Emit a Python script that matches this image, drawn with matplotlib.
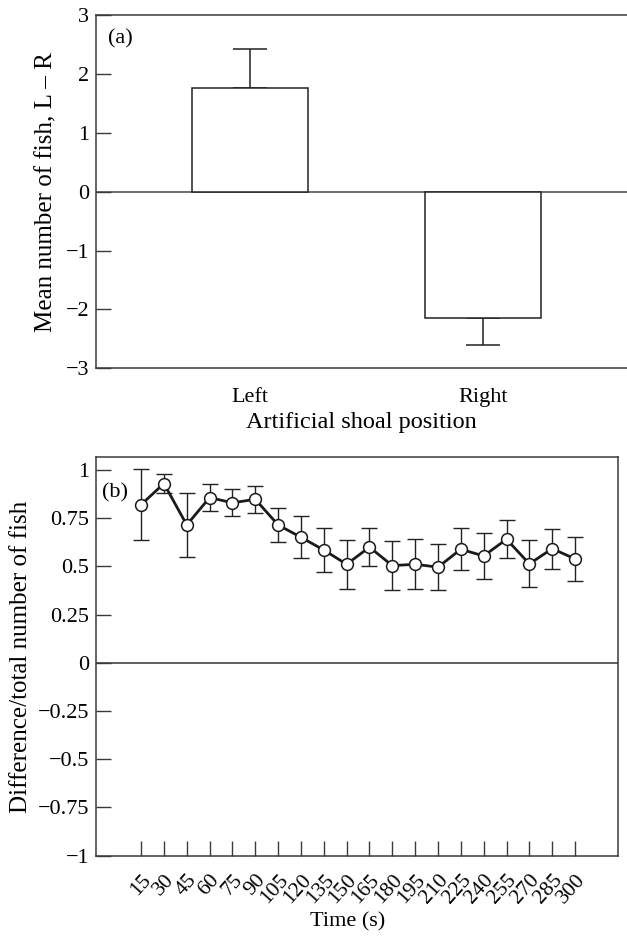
import numpy as np
import matplotlib
matplotlib.use("Agg")
import matplotlib.pyplot as plt

plt.rcParams['font.family'] = ['Liberation Serif', 'DejaVu Serif']
plt.rcParams['axes.unicode_minus'] = True

# panel (a): mean difference in fish number, left minus right
positions = ['Left', 'Right']
mean_a = [1.77, -2.15]
sem_a = [0.66, 0.46]

# panel (b): proportion difference over time
times = [15, 30, 45, 60, 75, 90, 105, 120, 135, 150,
         165, 180, 195, 210, 225, 240, 255, 270, 285, 300]
mean_b = [0.82, 0.93, 0.715, 0.857, 0.83, 0.848, 0.715, 0.651, 0.585, 0.511,
          0.60, 0.504, 0.511, 0.496, 0.589, 0.554, 0.641, 0.513, 0.592, 0.539]
sem_b = [0.185, 0.05, 0.165, 0.068, 0.07, 0.07, 0.09, 0.108, 0.112, 0.126,
         0.10, 0.128, 0.13, 0.12, 0.11, 0.117, 0.098, 0.122, 0.103, 0.113]

spine_c = '#3a3a3a'
tick_fs = 16
lab_fs = 18

fig = plt.figure(figsize=(6.27, 9.39), dpi=100)

# ---- (a) ----
ax1 = fig.add_axes([96 / 627, 0.6078, 1 - 96 / 627, 0.3757])
x = np.arange(len(positions))
ax1.bar(x, mean_a, width=0.5, color='white', edgecolor='#222222', linewidth=1.1, zorder=3)
for i, (m, s) in enumerate(zip(mean_a, sem_a)):
    if m >= 0:
        yerr = [[0], [s]]
    else:
        yerr = [[s], [0]]
    ax1.errorbar(x[i], m, yerr=yerr, fmt='none', ecolor='#222222',
                 elinewidth=1.1, capsize=12, capthick=1.1, zorder=2)
ax1.axhline(0, color='#555555', lw=1.2, zorder=1)
ax1.set_xlim(-0.663, 1.62)
ax1.set_ylim(-3, 3)
ax1.set_yticks([3, 2, 1, 0, -1, -2, -3])
ax1.set_xticks(x)
ax1.set_xticklabels(positions)
ax1.tick_params(axis='x', length=0, pad=14, labelsize=tick_fs)
ax1.tick_params(axis='y', direction='in', length=11, width=1, color=spine_c, labelsize=tick_fs, pad=5)
ax1.spines['right'].set_visible(False)
for s in ['left', 'top', 'bottom']:
    ax1.spines[s].set_color(spine_c)
    ax1.spines[s].set_linewidth(1.1)
ax1.set_ylabel('Mean number of fish, L \u2013 R', fontsize=lab_fs, labelpad=6)
ax1.set_xlabel('Artificial shoal position', fontsize=lab_fs - 0.5, labelpad=4)
ax1.text(0.022, 0.935, '(a)', transform=ax1.transAxes, fontsize=tick_fs, va='center', ha='left')

# ---- (b) ----
ax2 = fig.add_axes([96 / 627, 0.0889, 0.832, 0.4241])
ax2.errorbar(times, mean_b, yerr=sem_b, fmt='none', ecolor='#222222',
             elinewidth=1.0, capsize=5.6, capthick=1.0, zorder=2)
ax2.plot(times, mean_b, color='#1a1a1a', lw=2.0, marker='o', markersize=8.5,
         markerfacecolor='white', markeredgecolor='#1a1a1a', markeredgewidth=1.1, zorder=3)
ax2.axhline(0, color='#333333', lw=1.1, zorder=1)
ax2.set_xlim(-14.6, 328)
ax2.set_ylim(-1, 1.066)
ax2.set_xticks(times)
ax2.set_xticklabels([str(t) for t in times], rotation=48, ha='right', rotation_mode='anchor')
yt = [1, 0.75, 0.5, 0.25, 0, -0.25, -0.5, -0.75, -1]
ax2.set_yticks(yt)
ax2.set_yticklabels(['1', '0.75', '0.5', '0.25', '0',
                     '\u22120.25', '\u22120.5', '\u22120.75', '\u22121'])
ax2.tick_params(axis='x', direction='in', length=11, width=1, color=spine_c, labelsize=tick_fs - 0.5, pad=11)
ax2.tick_params(axis='y', direction='in', length=11, width=1, color=spine_c, labelsize=tick_fs, pad=5)
for s in ax2.spines.values():
    s.set_color(spine_c)
    s.set_linewidth(1.1)
ax2.set_ylabel('Difference/total number of fish', fontsize=lab_fs, labelpad=4)
ax2.set_xlabel('Time (s)', fontsize=tick_fs)
ax2.xaxis.set_label_coords(0.483, -0.143)
ax2.text(0.012, 0.91, '(b)', transform=ax2.transAxes, fontsize=tick_fs, va='center', ha='left')

fig.savefig('out.png', dpi=100)
